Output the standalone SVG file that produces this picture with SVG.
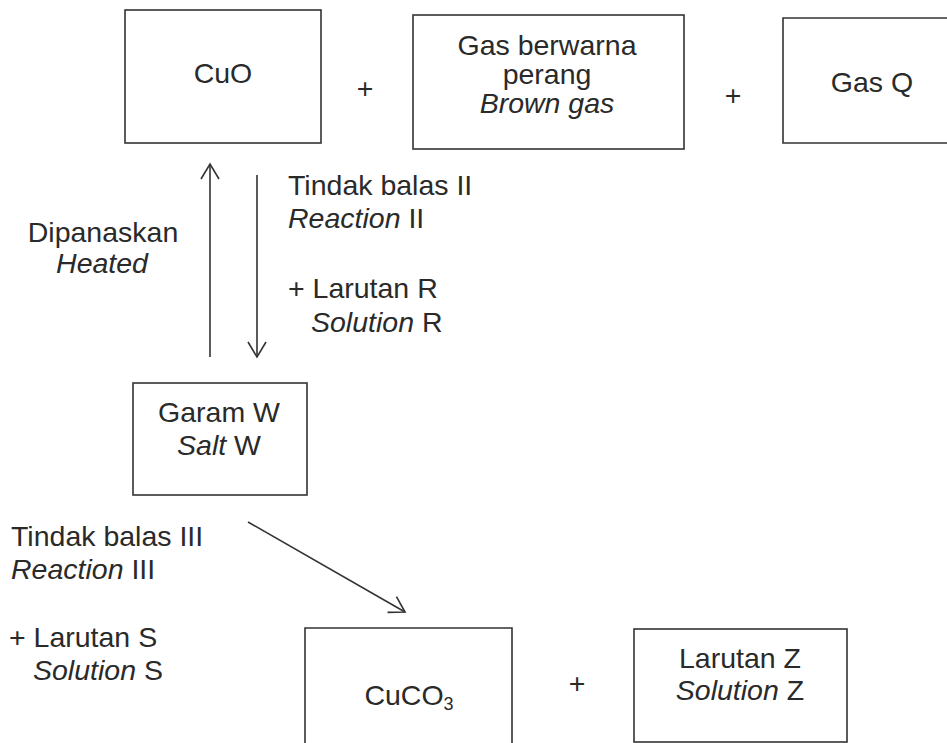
<svg xmlns="http://www.w3.org/2000/svg" width="947" height="743" viewBox="0 0 947 743">
<style>
text{font-family:"Liberation Sans",Arial,sans-serif;font-size:28.5px;fill:#2a2a2a}
.m{text-anchor:middle}
.i{font-style:italic}
.box{fill:none;stroke:#333;stroke-width:1.6}
.con{fill:none;stroke:#333;stroke-width:1.6}
</style>
<defs>
<marker id="ah" viewBox="0 0 20 20" refX="17" refY="10" markerWidth="20" markerHeight="20" markerUnits="userSpaceOnUse" orient="auto">
<polyline points="2,1 17,10 2,19" fill="none" stroke="#333" stroke-width="1.6"/>
</marker>
</defs>
<rect width="947" height="743" fill="#fff"/>
<g id="cuo"><rect class="box" x="125" y="10" width="196" height="133"/><text class="m" x="223" y="83">CuO</text></g>
<g id="plus1"><text class="m" x="365" y="98">+</text></g>
<g id="browngas"><rect class="box" x="413" y="15" width="271" height="134"/>
<text class="m" x="547" y="55">Gas berwarna</text><text class="m" x="547" y="84">perang</text><text class="m i" x="547" y="113">Brown gas</text></g>
<g id="plus2"><text class="m" x="733" y="105">+</text></g>
<g id="gasq"><path class="box" d="M950,18 H783 V143 H950"/><text class="m" x="872" y="92">Gas Q</text></g>
<g id="heated"><text class="m" x="103" y="242">Dipanaskan</text><text class="m i" x="102" y="273">Heated</text></g>
<g id="reaction2"><text x="288" y="195">Tindak balas II</text><text x="288" y="228"><tspan class="i">Reaction</tspan> II</text>
<text x="288" y="298">+ Larutan R</text><text x="311" y="332"><tspan class="i">Solution</tspan> R</text></g>
<g id="saltw"><rect class="box" x="133" y="383" width="174" height="112"/><text class="m" x="219" y="422">Garam W</text><text class="m" x="219" y="455"><tspan class="i">Salt</tspan> W</text></g>
<g id="reaction3"><text x="11" y="546">Tindak balas III</text><text x="11" y="579"><tspan class="i">Reaction</tspan> III</text>
<text x="9" y="647">+ Larutan S</text><text x="33" y="680"><tspan class="i">Solution</tspan> S</text></g>
<g id="cuco3"><path class="box" d="M305,745 V628 H512 V745"/><text class="m" x="409" y="705">CuCO<tspan font-size="18" dy="5">3</tspan></text></g>
<g id="plus3"><text class="m" x="577" y="693">+</text></g>
<g id="solz"><rect class="box" x="634" y="629" width="213" height="113"/><text class="m" x="740" y="668">Larutan Z</text><text class="m" x="740" y="700"><tspan class="i">Solution</tspan> Z</text></g>
<g id="connectors">
<line class="con" x1="210" y1="357" x2="210" y2="164" marker-end="url(#ah)"/>
<line class="con" x1="257" y1="175" x2="257" y2="357" marker-end="url(#ah)"/>
<line class="con" x1="248" y1="522" x2="405" y2="612" marker-end="url(#ah)"/>
</g>
</svg>
